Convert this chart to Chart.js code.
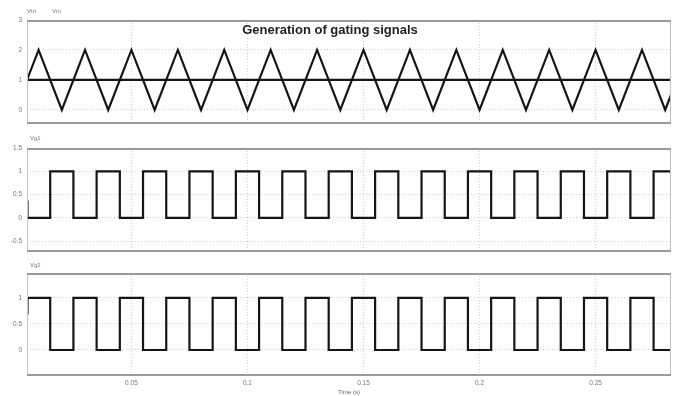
<!DOCTYPE html>
<html>
<head>
<meta charset="utf-8">
<script src="https://cdn.jsdelivr.net/npm/chart.js@4.4.1/dist/chart.umd.min.js"></script>
<style>
  html, body { margin: 0; padding: 0; background: #fff; }
  #wrap { position: relative; width: 681px; height: 396px; overflow: hidden;
          font-family: "Liberation Sans", Arial, sans-serif; }
  .pane { position: absolute; left: 0; width: 681px; }
  .tag { position: absolute; font-size: 6px; line-height: 6px; color: #777; white-space: nowrap; }
  #title { position: absolute; left: 0; width: 660px; top: 22px; text-align: center;
           font-weight: bold; font-size: 13px; line-height: 15px; color: #222; }
</style>
</head>
<body>
<div id="wrap">
  <div class="pane" style="top:0;height:134px"><canvas id="c1" width="681" height="134"></canvas></div>
  <div class="pane" style="top:128px;height:134px"><canvas id="c2" width="681" height="134"></canvas></div>
  <div class="pane" style="top:253px;height:143px"><canvas id="c3" width="681" height="143"></canvas></div>
  <div class="tag" style="left:27px;top:8px">Vtri</div>
  <div class="tag" style="left:52px;top:8px">Vm</div>
  <div class="tag" style="left:30px;top:135px">Vg1</div>
  <div class="tag" style="left:30px;top:262px">Vg2</div>
  <div id="title">Generation of gating signals</div>
</div>
<script>
// Time window of the simulation trace (s)
const tStart = 0.005;
const tEnd = 0.2825;

// Triangular carrier: vertex times and levels
const triTime  = [0.005, 0.01, 0.02, 0.03, 0.04, 0.05, 0.06, 0.07, 0.08, 0.09, 0.10,
                  0.11, 0.12, 0.13, 0.14, 0.15, 0.16, 0.17, 0.18, 0.19, 0.20,
                  0.21, 0.22, 0.23, 0.24, 0.25, 0.26, 0.27, 0.28, 0.2825];
const triValue = [1, 2, 0, 2, 0, 2, 0, 2, 0, 2, 0,
                  2, 0, 2, 0, 2, 0, 2, 0, 2, 0,
                  2, 0, 2, 0, 2, 0, 2, 0, 0.5];

// Modulating (reference) level
const refTime  = [0.005, 0.2825];
const refValue = [1, 1];

// Gate signal Vg1: switching instants and the level held from each instant
const vg1Time  = [0.005, 0.0052, 0.015, 0.025, 0.035, 0.045, 0.055, 0.065, 0.075, 0.085,
                  0.095, 0.105, 0.115, 0.125, 0.135, 0.145, 0.155, 0.165, 0.175, 0.185,
                  0.195, 0.205, 0.215, 0.225, 0.235, 0.245, 0.255, 0.265, 0.275, 0.2825];
const vg1Value = [0.35, 0, 1, 0, 1, 0, 1, 0, 1, 0,
                  1, 0, 1, 0, 1, 0, 1, 0, 1, 0,
                  1, 0, 1, 0, 1, 0, 1, 0, 1, 1];

// Gate signal Vg2 (complement of Vg1)
const vg2Time  = vg1Time;
const vg2Value = [0.7, 1, 0, 1, 0, 1, 0, 1, 0, 1,
                  0, 1, 0, 1, 0, 1, 0, 1, 0, 1,
                  0, 1, 0, 1, 0, 1, 0, 1, 0, 0];

// Axis ticks
const timeTicks  = [0.05, 0.1, 0.15, 0.2, 0.25];
const topTicks   = [3, 2, 1, 0];
const midTicks   = [1.5, 1, 0.5, 0, -0.5];
const lowTicks   = [1, 0.5, 0];

const pts = (xs, ys) => xs.map((x, i) => ({ x: x, y: ys[i] }));

// Draws the plot frame around each chart area
const framePlugin = {
  id: 'frame',
  afterDraw(chart) {
    const { ctx, chartArea: a } = chart;
    ctx.save();
    ctx.strokeStyle = '#c4c4c4';
    ctx.lineWidth = 1;
    ctx.beginPath();
    ctx.moveTo(a.left + 0.5, a.top); ctx.lineTo(a.left + 0.5, a.bottom);
    ctx.moveTo(a.right - 0.5, a.top); ctx.lineTo(a.right - 0.5, a.bottom);
    ctx.stroke();
    ctx.strokeStyle = '#9a9a9a';
    ctx.lineWidth = 2;
    ctx.beginPath();
    ctx.moveTo(a.left, a.top + 1); ctx.lineTo(a.right, a.top + 1);
    ctx.moveTo(a.left, a.bottom - 1); ctx.lineTo(a.right, a.bottom - 1);
    ctx.stroke();
    ctx.restore();
  }
};

const tickFont = { family: '"Liberation Sans", Arial, sans-serif', size: 6.5 };

function makePanel(id, datasets, yMin, yMax, yTicks, showTime) {
  const xScale = {
    type: 'linear',
    min: tStart,
    max: tEnd,
    afterBuildTicks: s => { s.ticks = timeTicks.map(v => ({ value: v })); },
    grid: { color: '#cfcfcf', lineWidth: 1, drawTicks: false },
    border: { display: false, dash: [1, 2] },
    ticks: { display: showTime, font: tickFont, color: '#777', padding: 3,
             maxRotation: 0, callback: v => String(v) },
    title: { display: showTime, text: 'Time (s)', font: { family: tickFont.family, size: 6 },
             color: '#666', padding: 0 },
    afterFit: s => { s.height = showTime ? 20 : 0; }
  };
  const yScale = {
    type: 'linear',
    min: yMin,
    max: yMax,
    afterBuildTicks: s => { s.ticks = yTicks.map(v => ({ value: v })); },
    grid: { color: '#cfcfcf', lineWidth: 1, drawTicks: false },
    border: { display: false, dash: [1, 2] },
    ticks: { font: tickFont, color: '#777', padding: 5, callback: v => String(v) },
    afterFit: s => { s.width = 27; }
  };
  return new Chart(document.getElementById(id), {
    type: 'line',
    data: { datasets: datasets },
    options: {
      responsive: false,
      animation: false,
      events: [],
      layout: { padding: { top: 20, bottom: showTime ? 0 : 10, left: 0, right: 10 } },
      plugins: { legend: { display: false }, tooltip: { enabled: false }, title: { display: false } },
      elements: { point: { radius: 0 }, line: { tension: 0 } },
      scales: { x: xScale, y: yScale }
    },
    plugins: [framePlugin]
  });
}

const lineStyle = { borderColor: '#151515', borderWidth: 2.2, fill: false };

makePanel('c1', [
  Object.assign({ label: 'Vtri', data: pts(triTime, triValue) }, lineStyle),
  Object.assign({ label: 'Vm', data: pts(refTime, refValue) }, lineStyle)
], -0.47, 3, topTicks, false);

makePanel('c2', [
  Object.assign({ label: 'Vg1', data: pts(vg1Time, vg1Value), stepped: 'before' }, lineStyle)
], -0.73, 1.5, midTicks, false);

makePanel('c3', [
  Object.assign({ label: 'Vg2', data: pts(vg2Time, vg2Value), stepped: 'before' }, lineStyle)
], -0.5, 1.48, lowTicks, true);
</script>
</body>
</html>
